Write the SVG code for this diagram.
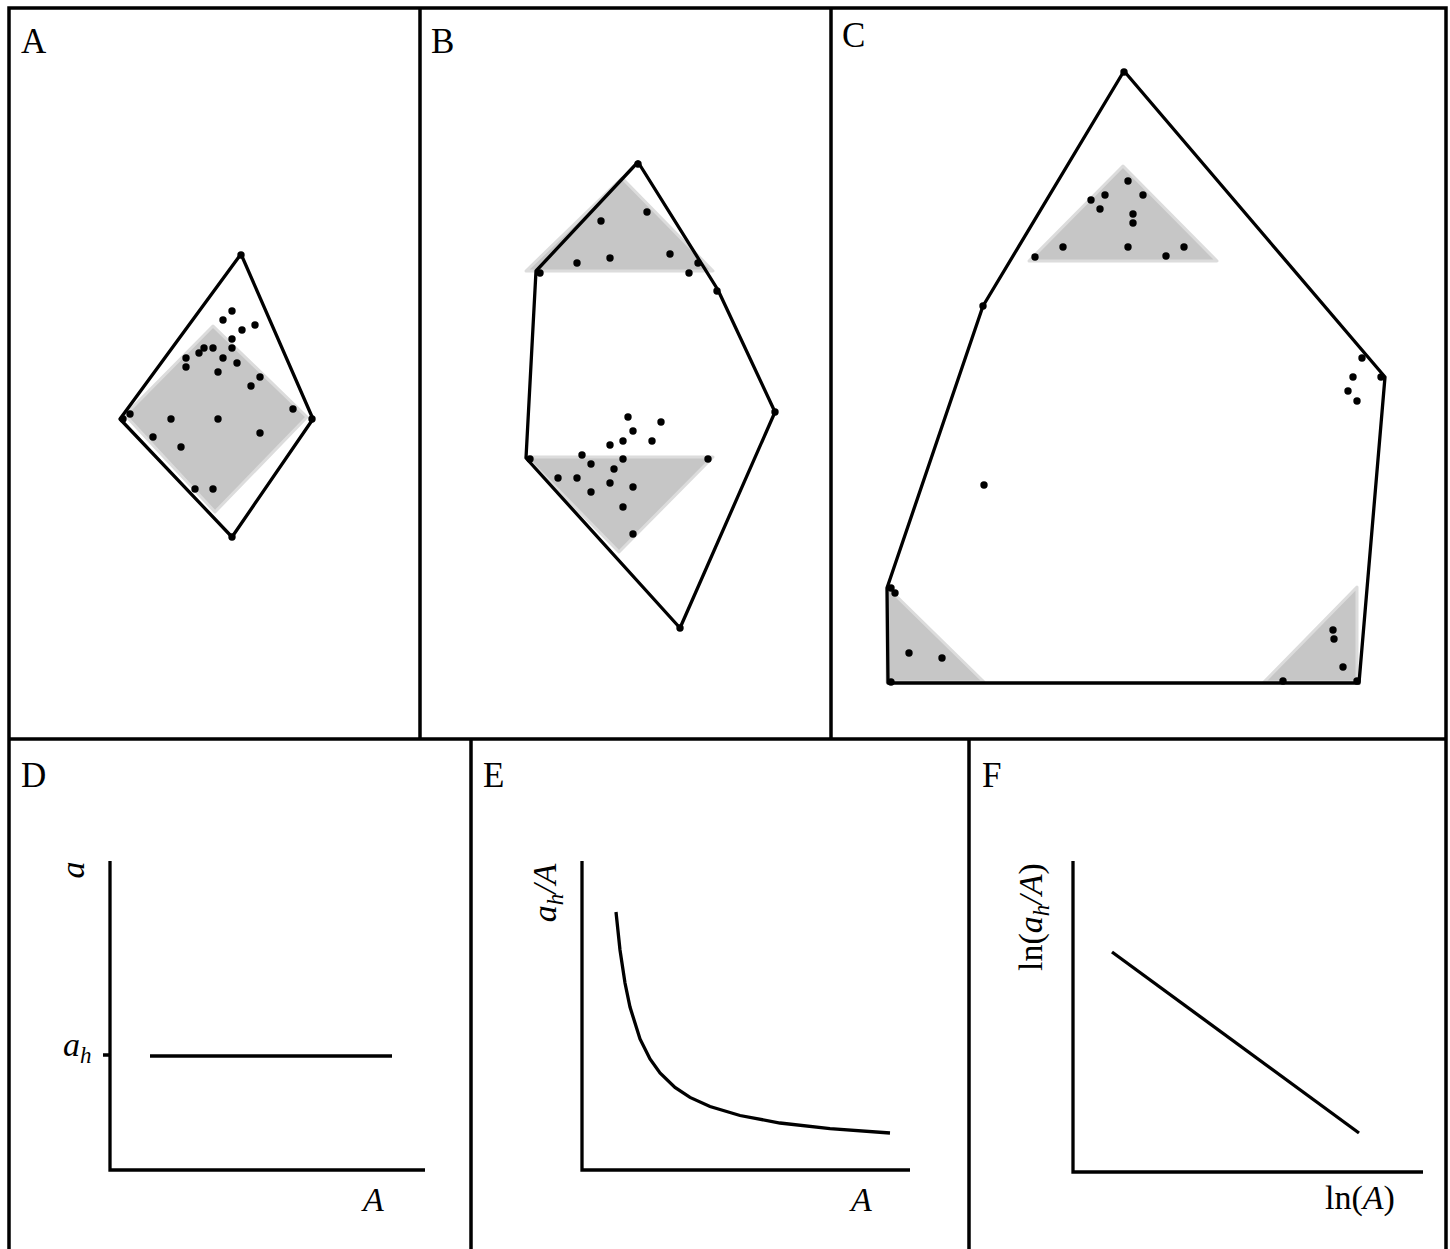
<svg xmlns="http://www.w3.org/2000/svg" width="1450" height="1249" viewBox="0 0 1450 1249">
<style>
.frame{fill:none;stroke:#000;stroke-width:3.5}
.poly{fill:none;stroke:#000;stroke-width:3.3;stroke-linejoin:round}
.shade{fill:#c6c6c6;stroke:#dcdcdc;stroke-width:3;stroke-linejoin:round}
.ax{fill:none;stroke:#000;stroke-width:3.3}
.dot{fill:#000}
.lbl{font-family:"Liberation Serif","DejaVu Serif",serif;font-size:35px;fill:#000}
.it{font-family:"Liberation Serif","DejaVu Serif",serif;font-style:italic;font-size:34px;fill:#000}
.rm{font-family:"Liberation Serif","DejaVu Serif",serif;font-size:34px;fill:#000}
</style>
<defs>
<circle id="d" r="3.7" class="dot"/>
</defs>
<rect width="1450" height="1249" fill="#fff"/>
<g id="frames">
<path class="frame" d="M9,1249 V8 H1446 V1249 M420,8 V739 M831,8 V739 M9,739 H1446 M471,739 V1249 M969,739 V1249"/>
</g>
<g id="panelA">
<text class="lbl" x="21" y="53">A</text>
<polygon class="shade" points="213,326 307,417 215,512 125,415"/>
<polygon class="poly" points="241,254 313,419 232,537 120,419"/>
<g>
<use href="#d" x="241" y="255"/><use href="#d" x="232" y="311"/><use href="#d" x="223" y="320"/><use href="#d" x="255" y="325"/><use href="#d" x="242" y="330"/><use href="#d" x="232" y="339"/><use href="#d" x="204" y="348"/><use href="#d" x="213" y="348"/><use href="#d" x="232" y="348"/><use href="#d" x="199" y="353"/><use href="#d" x="186" y="358"/><use href="#d" x="223" y="358"/><use href="#d" x="237" y="363"/><use href="#d" x="186" y="367"/><use href="#d" x="218" y="372"/><use href="#d" x="260" y="377"/><use href="#d" x="251" y="386"/><use href="#d" x="123" y="419"/><use href="#d" x="130" y="414"/><use href="#d" x="171" y="419"/><use href="#d" x="218" y="419"/><use href="#d" x="293" y="409"/><use href="#d" x="312" y="419"/><use href="#d" x="153" y="437"/><use href="#d" x="260" y="433"/><use href="#d" x="181" y="447"/><use href="#d" x="195" y="489"/><use href="#d" x="213" y="489"/><use href="#d" x="232" y="537"/>
</g>
</g>
<g id="panelB">
<text class="lbl" x="431" y="53">B</text>
<polygon class="shade" points="622,178 713,271 526,271"/>
<polygon class="shade" points="526,457 713,457 619,552"/>
<polygon class="poly" points="638,162 718,290 775,412 680,628 526,458 536,271"/>
<g>
<use href="#d" x="638" y="164"/><use href="#d" x="647" y="212"/><use href="#d" x="601" y="221"/><use href="#d" x="577" y="263"/><use href="#d" x="610" y="258"/><use href="#d" x="670" y="254"/><use href="#d" x="698" y="263"/><use href="#d" x="689" y="273"/><use href="#d" x="540" y="273"/><use href="#d" x="717" y="291"/><use href="#d" x="775" y="412"/>
<use href="#d" x="628" y="417"/><use href="#d" x="661" y="422"/><use href="#d" x="633" y="431"/><use href="#d" x="623" y="441"/><use href="#d" x="652" y="441"/><use href="#d" x="610" y="445"/><use href="#d" x="582" y="455"/><use href="#d" x="623" y="459"/><use href="#d" x="530" y="459"/><use href="#d" x="708" y="459"/><use href="#d" x="591" y="464"/><use href="#d" x="614" y="469"/><use href="#d" x="558" y="478"/><use href="#d" x="577" y="478"/><use href="#d" x="610" y="483"/><use href="#d" x="633" y="487"/><use href="#d" x="591" y="492"/><use href="#d" x="623" y="507"/><use href="#d" x="633" y="534"/><use href="#d" x="680" y="628"/>
</g>
</g>
<g id="panelC">
<text class="lbl" x="842" y="47">C</text>
<polygon class="shade" points="1123,166 1217,261 1029,261"/>
<polygon class="shade" points="887,587 887,682 984,682"/>
<polygon class="shade" points="1357,587 1357,682 1264,682"/>
<polygon class="poly" points="1124,71 1385,377 1359,683 888,683 887,588 983,306"/>
<g>
<use href="#d" x="1124" y="72"/><use href="#d" x="983" y="306"/><use href="#d" x="984" y="485"/>
<use href="#d" x="1128" y="181"/><use href="#d" x="1105" y="195"/><use href="#d" x="1143" y="195"/><use href="#d" x="1091" y="200"/><use href="#d" x="1100" y="209"/><use href="#d" x="1133" y="214"/><use href="#d" x="1133" y="223"/><use href="#d" x="1063" y="247"/><use href="#d" x="1128" y="247"/><use href="#d" x="1184" y="247"/><use href="#d" x="1035" y="257"/><use href="#d" x="1166" y="256"/>
<use href="#d" x="1362" y="358"/><use href="#d" x="1353" y="377"/><use href="#d" x="1381" y="377"/><use href="#d" x="1348" y="391"/><use href="#d" x="1357" y="401"/>
<use href="#d" x="891" y="588"/><use href="#d" x="895" y="593"/><use href="#d" x="909" y="653"/><use href="#d" x="942" y="658"/><use href="#d" x="891" y="682"/>
<use href="#d" x="1333" y="630"/><use href="#d" x="1334" y="639"/><use href="#d" x="1343" y="667"/><use href="#d" x="1283" y="681"/><use href="#d" x="1357" y="681"/>
</g>
</g>
<g id="panelD">
<text class="lbl" x="21" y="787">D</text>
<path class="ax" d="M110,861 V1170 H425 M103,1055 H110"/>
<path class="ax" d="M150,1056 H392"/>
<text class="it" transform="translate(84,870) rotate(-90)" text-anchor="middle">a</text>
<text class="it" x="63" y="1056">a<tspan font-size="23" dy="7">h</tspan></text>
<text class="it" x="363" y="1211">A</text>
</g>
<g id="panelE">
<text class="lbl" x="483" y="787">E</text>
<path class="ax" d="M582,861 V1170 H910"/>
<path class="ax" d="M616,912 L620,950 L625,983 L630,1007 L640,1039 L650,1059 L660,1073 L675,1087.5 L690,1097.4 L710,1106.5 L740,1115.5 L780,1123 L830,1128.7 L890,1133"/>
<text class="it" transform="translate(556,893) rotate(-90)" text-anchor="middle">a<tspan font-size="23" dy="7">h</tspan><tspan dy="-7">/A</tspan></text>
<text class="it" x="851" y="1211">A</text>
</g>
<g id="panelF">
<text class="lbl" x="982" y="787">F</text>
<path class="ax" d="M1073,861 V1172 H1423"/>
<path class="ax" d="M1112,952 L1359,1133"/>
<text class="rm" transform="translate(1042,917) rotate(-90)" text-anchor="middle">ln(<tspan font-style="italic">a</tspan><tspan font-style="italic" font-size="23" dy="7">h</tspan><tspan font-style="italic" dy="-7">/A</tspan>)</text>
<text class="rm" x="1325" y="1209">ln(<tspan font-style="italic">A</tspan>)</text>
</g>
</svg>
